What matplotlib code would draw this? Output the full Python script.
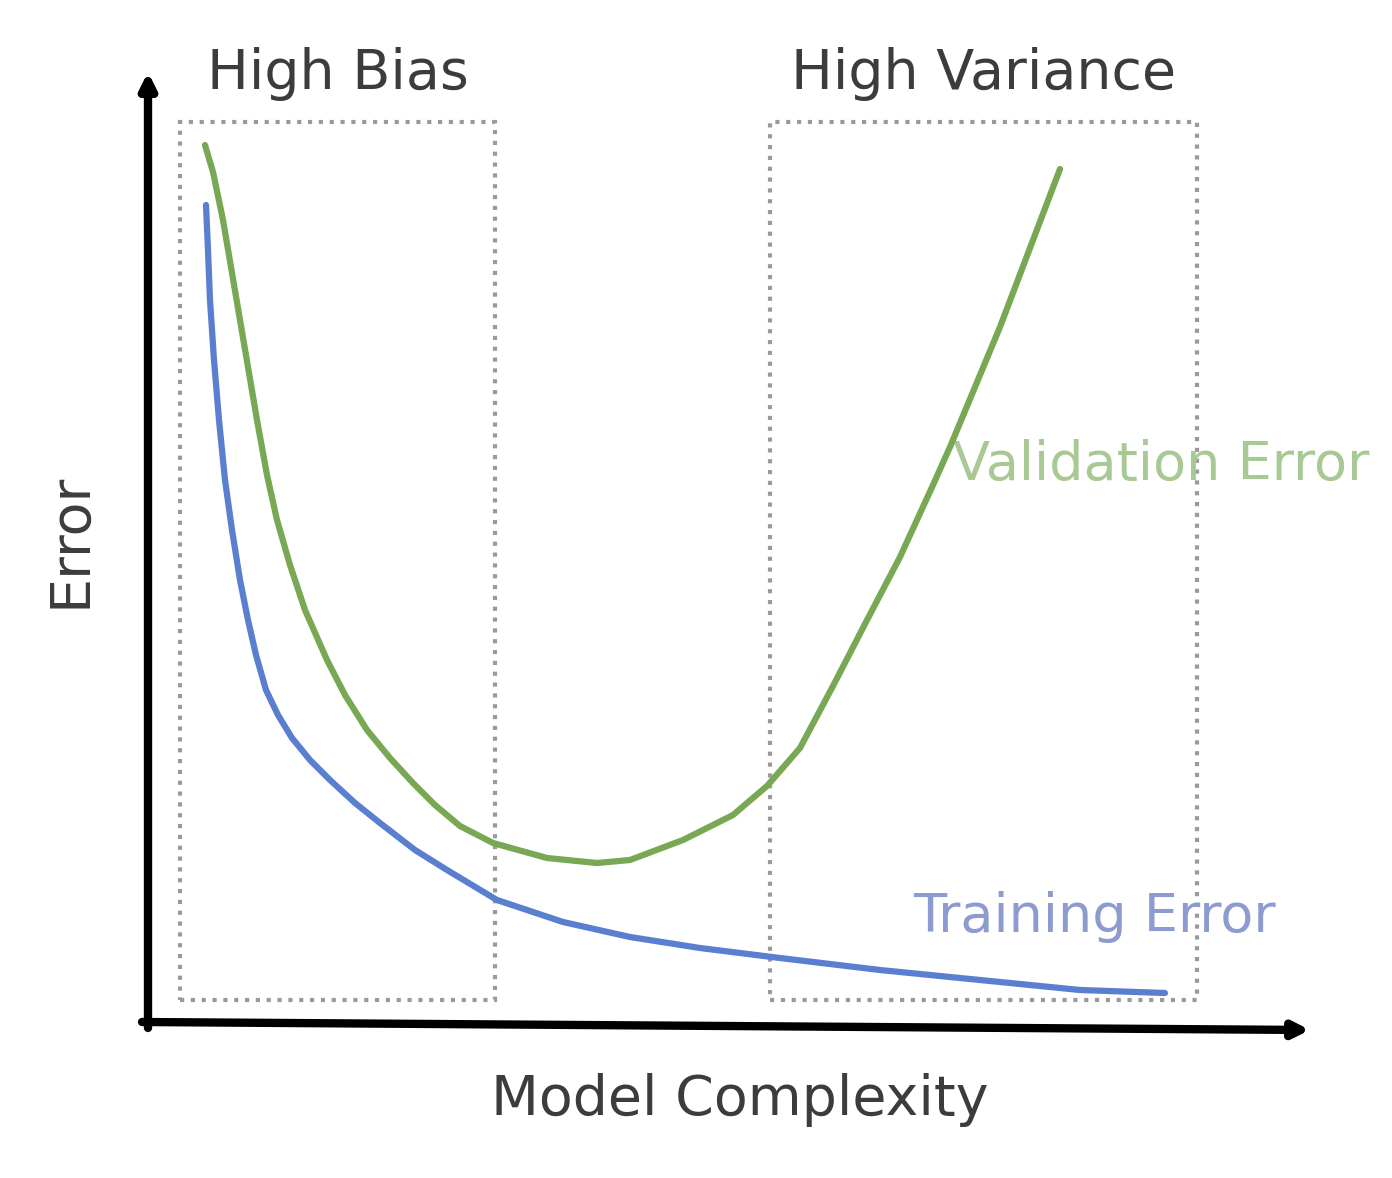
import matplotlib
matplotlib.use('Agg')
import matplotlib.pyplot as plt
from matplotlib.patches import Rectangle

# ---- data (complexity on x, error on y; origin at the axes corner) ----
val_x = [57, 65, 75, 92, 109, 119, 129, 142, 157, 179, 197, 219, 242, 265, 287,
         312, 345, 399, 449, 482, 535, 585, 619, 652, 685, 718, 752, 785, 802,
         852, 912]
val_y = [877, 850, 802, 702, 602, 547, 502, 457, 412, 362, 327, 292, 264, 239, 217,
         196, 179, 164, 159, 162, 182, 207, 236, 274, 336, 400, 465, 537, 575,
         695, 853]

train_x = [58, 60, 62, 66, 71, 77, 84, 92, 100, 108, 118, 130, 144, 162, 182,
           207, 232, 267, 299, 349, 415, 482, 552, 632, 732, 832, 932, 1017]
train_y = [817, 772, 722, 662, 602, 542, 492, 442, 402, 367, 332, 307, 284, 262, 242,
           219, 199, 172, 152, 122, 100, 85, 74, 64, 52, 42, 32, 29]

regions = ['High Bias', 'High Variance']
region_x0 = [32, 622]
region_x1 = [347, 1049]
region_y0 = 22
region_y1 = 900

plt.rcParams['font.family'] = ['DejaVu Sans']

fig = plt.figure(figsize=(13.92, 11.78), dpi=100, facecolor='white')
ax = fig.add_axes([0, 0, 1, 1])
ax.set_xlim(-148, 1244)
ax.set_ylim(-156, 1022)
ax.axis('off')

# dotted region boxes
for name, x0, x1 in zip(regions, region_x0, region_x1):
    ax.add_patch(Rectangle((x0, region_y0), x1 - x0, region_y1 - region_y0,
                           fill=False, edgecolor='#9a9a9a', linewidth=3,
                           linestyle=(0, (1, 1.6)), zorder=1))
    ax.text((x0 + x1) / 2, 948, name, ha='center', va='center',
            fontsize=40, color='#3c3c3c')

# curves
ax.plot(val_x, val_y, color='#78a854', linewidth=4.5, solid_capstyle='round',
        solid_joinstyle='round', zorder=3)
ax.plot(train_x, train_y, color='#5a7fd0', linewidth=4.5, solid_capstyle='round',
        solid_joinstyle='round', zorder=3)

ax.text(805, 557, 'Validation Error', ha='left', va='center',
        fontsize=39, color='#a9c994', zorder=2, clip_on=False)
ax.text(765, 105, 'Training Error', ha='left', va='center',
        fontsize=39, color='#8d9bd0', zorder=2)

# axes arrows
ax.annotate('', xy=(0, 950), xytext=(0, -6),
            arrowprops=dict(arrowstyle='-|>,head_width=0.45,head_length=0.9',
                            color='black', lw=6, shrinkA=0, shrinkB=0))
ax.annotate('', xy=(1162, -8), xytext=(-6, 0),
            arrowprops=dict(arrowstyle='-|>,head_width=0.45,head_length=0.9',
                            color='black', lw=6, shrinkA=0, shrinkB=0))

ax.text(-78, 482, 'Error', rotation=90, ha='center', va='center',
        fontsize=40, color='#3c3c3c')
ax.text(592, -78, 'Model Complexity', ha='center', va='center',
        fontsize=40, color='#3c3c3c')

plt.savefig('out.png', dpi=100, facecolor='white')
plt.close()
